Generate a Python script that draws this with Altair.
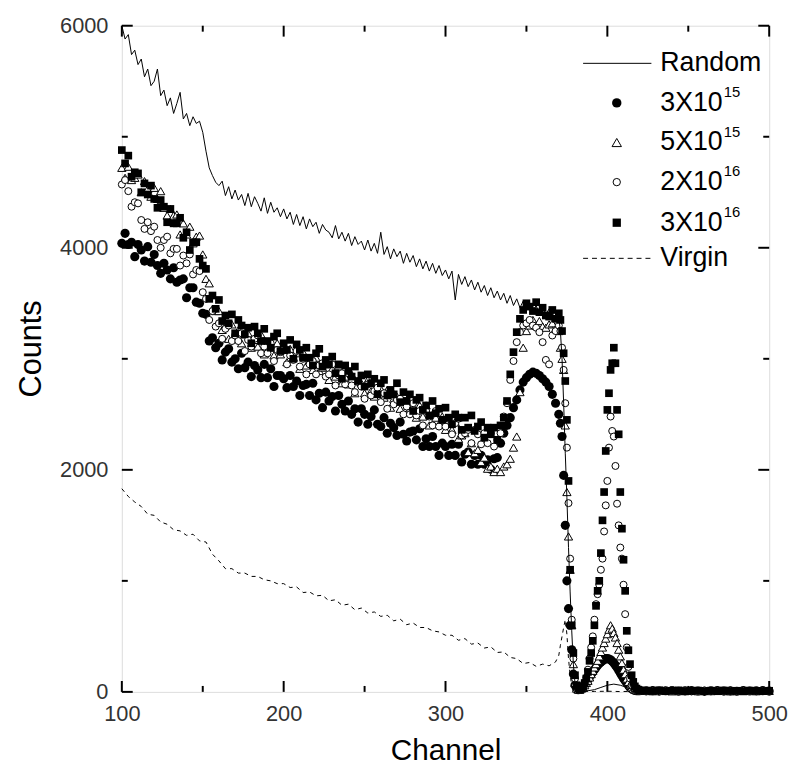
import altair as alt
import pandas as pd

FONT = "Liberation Sans, Arial, sans-serif"

# ---------------- data ----------------
CH_A = list(range(100, 337, 2))   # 119 channels
CH_B = list(range(338, 371, 2))   # 17 channels
CH_C = list(range(371, 421))      # 50 channels
CH_D = list(range(424, 501, 4))   # 20 channels
CHANNELS = CH_A + CH_B + CH_C + CH_D

# 3X10^16 (filled squares)
SQ_3E16 = [
    4880, 4760, 4830, 4640, 4680, 4670, 4500, 4580, 4480, 4560,
    4440, 4360, 4430, 4370, 4230, 4350, 4220, 4220, 4270, 4090,
    4140, 3980, 4050, 4050, 3900, 3840, 3810, 3540, 3570, 3450,
    3530, 3340, 3390, 3320, 3400, 3230, 3350, 3300, 3220, 3280,
    3140, 3290, 3230, 3160, 3270, 3160, 3100, 3200, 3230, 3070,
    3140, 3080, 3170, 3000, 3130, 3080, 3010, 3100, 3010, 2940,
    3050, 3090, 2930, 2990, 2950, 3020, 2870, 2950, 2820, 2940,
    2890, 2840, 2930, 2800, 2850, 2750, 2860, 2780, 2820, 2680,
    2780, 2810, 2670, 2720, 2680, 2780, 2610, 2700, 2620, 2680,
    2530, 2630, 2650, 2540, 2580, 2490, 2620, 2510, 2550, 2450,
    2560, 2470, 2410, 2500, 2470, 2360, 2470, 2380, 2490, 2350,
    2390, 2430, 2290, 2380, 2320, 2380, 2270, 2400, 2470,
    2620, 2860, 3060, 3240, 3360, 3440, 3500, 3470, 3430, 3510, 3420, 3460, 3390, 3380, 3440, 3360, 3410,
    3350, 3250, 3050, 2800, 2450, 1900, 1100, 600, 350, 150,
    60, 30, 20, 30, 50, 80, 120, 180, 280, 350,
    460, 600, 775, 910, 1000, 1250, 1545, 1800, 2170, 2540,
    2690, 2900, 2960, 3100, 2960, 2540, 2320, 1800, 1470, 1190,
    910, 550, 375, 250, 150, 90, 50, 30, 20, 15,
    12, 8, 15, 6, 10, 14, 5, 9, 12, 7, 11, 6, 13, 8, 10, 5, 12, 9, 7, 10,
]

# 2X10^16 (open circles)
OC_2E16 = [
    4570, 4610, 4510, 4370, 4410, 4400, 4250, 4170, 4230, 4150,
    4190, 4070, 4000, 4070, 4100, 3950, 3990, 3990, 3840, 3930,
    3860, 3940, 3760, 3800, 3790, 3600, 3540, 3350, 3430, 3290,
    3320, 3180, 3270, 3300, 3160, 3210, 3160, 3230, 3070, 3170,
    3110, 3180, 3210, 3050, 3110, 3050, 3140, 2980, 3080, 3060,
    3090, 2950, 3030, 2990, 3070, 2930, 3000, 2860, 2950, 2980,
    2860, 2940, 2960, 2840, 2860, 2950, 2760, 2850, 2870, 2770,
    2870, 2760, 2700, 2790, 2750, 2640, 2770, 2670, 2710, 2740,
    2610, 2690, 2550, 2710, 2590, 2630, 2640, 2500, 2570, 2500,
    2600, 2490, 2530, 2400, 2530, 2480, 2400, 2530, 2390, 2450,
    2390, 2460, 2320, 2420, 2460, 2310, 2330, 2360, 2240, 2360,
    2320, 2230, 2330, 2240, 2330, 2210, 2270, 2330, 2480,
    2600, 2810, 2980, 3150, 3240, 3300, 3320, 3350, 3300, 3280, 3240, 3150, 2990, 2950, 3210, 3250, 3300,
    3250, 3100, 2900, 2600, 2200, 1700, 1200, 650, 300, 120,
    50, 25, 20, 30, 50, 80, 130, 200, 300, 400,
    500, 650, 790, 880, 965, 1100, 1200, 1445, 1680, 1900,
    2200, 2480, 2350, 2300, 2035, 1695, 1500, 1300, 1200, 965,
    700, 400, 225, 120, 60, 35, 20, 15, 10, 10,
    8, 12, 6, 10, 14, 7, 11, 5, 9, 13, 6, 10, 8, 12, 5, 11, 9, 6, 10, 8,
]

# 5X10^15 (open triangles)
TR_5E15 = [
    4720, 4630, 4730, 4610, 4630, 4660, 4500, 4600, 4530, 4460,
    4540, 4440, 4510, 4360, 4290, 4350, 4290, 4300, 4120, 4220,
    4120, 4190, 4040, 4100, 4110, 3940, 3720, 3680, 3450, 3430,
    3430, 3260, 3300, 3180, 3310, 3220, 3260, 3140, 3220, 3230,
    3100, 3170, 3110, 3220, 3040, 3150, 3100, 3030, 3140, 3040,
    3080, 2970, 3090, 3010, 3050, 2910, 3060, 2940, 2980, 2900,
    3010, 2890, 2920, 2950, 2810, 2910, 2840, 2940, 2780, 2840,
    2770, 2860, 2690, 2800, 2780, 2690, 2810, 2710, 2660, 2730,
    2730, 2650, 2720, 2560, 2640, 2660, 2550, 2680, 2550, 2550,
    2570, 2470, 2580, 2480, 2580, 2400, 2500, 2470, 2410, 2480,
    2360, 2440, 2360, 2430, 2280, 2310, 2330, 2160, 2240, 2150,
    2180, 2070, 2110, 2010, 2030, 1980, 2010, 1980, 2030,
    2050, 2100, 2200, 2300, 2700, 3100, 3250, 3300, 3350, 3300, 3340, 3290, 3280, 3310, 3320, 3270, 3250,
    3100, 3000, 2900, 2400, 1800, 1400, 1100, 600, 250, 80,
    30, 20, 20, 30, 40, 60, 80, 100, 130, 160,
    190, 220, 250, 280, 320, 360, 400, 440, 480, 520,
    560, 600, 570, 530, 490, 440, 380, 320, 260, 200,
    160, 120, 90, 60, 40, 30, 20, 15, 10, 10,
    10, 6, 12, 9, 5, 11, 8, 13, 6, 10, 7, 12, 9, 5, 11, 8, 10, 6, 12, 9,
]

# 3X10^15 (filled circles)
FC_3E15 = [
    4040, 4130, 4030, 4050, 3920, 4030, 3980, 3880, 4010, 3870,
    3940, 3840, 3770, 3860, 3800, 3720, 3820, 3690, 3710, 3720,
    3550, 3640, 3640, 3510, 3500, 3410, 3400, 3160, 3190, 3100,
    3140, 2990, 3060, 3090, 2970, 3000, 2910, 3050, 2920, 2970,
    2840, 2940, 2900, 2830, 2950, 2830, 2910, 2750, 2850, 2850,
    2820, 2740, 2850, 2750, 2800, 2670, 2760, 2770, 2670, 2780,
    2630, 2690, 2560, 2700, 2620, 2660, 2530, 2670, 2590, 2530,
    2620, 2500, 2550, 2430, 2550, 2500, 2410, 2480, 2540, 2410,
    2390, 2470, 2330, 2420, 2380, 2310, 2430, 2320, 2260, 2340,
    2350, 2270, 2370, 2210, 2280, 2210, 2300, 2210, 2130, 2240,
    2210, 2130, 2230, 2130, 2230, 2070, 2140, 2160, 2050, 2130,
    2050, 2130, 2050, 2090, 2005, 2100, 2110, 2240, 2330,
    2400, 2470, 2560, 2630, 2720, 2790, 2830, 2860, 2880, 2870, 2850, 2820, 2790, 2750, 2680, 2600, 2500,
    2420, 2300, 1950, 1500, 1000, 750, 600, 380, 160, 60,
    25, 20, 25, 35, 50, 65, 85, 110, 135, 160,
    180, 200, 220, 240, 255, 270, 280, 290, 300, 300,
    295, 290, 275, 260, 240, 220, 195, 170, 145, 120,
    100, 80, 60, 40, 30, 20, 15, 10, 10, 10,
    9, 11, 7, 10, 12, 6, 9, 11, 8, 5, 10, 13, 7, 9, 6, 12, 8, 10, 11, 7,
]

# Random (solid line)
RANDOM_CH = list(range(100, 371, 2)) + list(range(371, 385)) + list(range(388, 501, 4))
RANDOM = [
    6000, 5880, 5920, 5740, 5780, 5650, 5700, 5540, 5610, 5460,
    5500, 5610, 5370, 5420, 5280, 5350, 5210, 5300, 5400, 5160,
    5210, 5100, 5180, 5120, 5140, 5040, 4870, 4720, 4650, 4590,
    4560, 4600, 4470, 4550, 4440, 4520, 4430, 4480, 4380, 4490,
    4370, 4460, 4400, 4330, 4450, 4310, 4410, 4320, 4360, 4280,
    4350, 4260, 4320, 4210, 4300, 4200, 4280, 4170, 4260, 4190,
    4230, 4130, 4210, 4160, 4140, 4090, 4200, 4080, 4140, 4060,
    4130, 4020, 4100, 4030, 4060, 3980, 4070, 3970, 4040, 3950,
    4140, 3940, 4010, 3900, 3990, 3920, 3970, 3860, 3950, 3870,
    3930, 3830, 3900, 3810, 3880, 3790, 3860, 3770, 3840, 3750,
    3800, 3720, 3790, 3530, 3760, 3670, 3740, 3650, 3710, 3620,
    3690, 3600, 3660, 3570, 3640, 3550, 3610, 3530, 3590, 3500,
    3570, 3480, 3540, 3460, 3520, 3440, 3500, 3430, 3480, 3410,
    3470, 3400, 3450, 3390, 3430, 3370,
    3250, 3000, 2600, 2150, 1750, 1300, 900, 550, 250, 80, 30, 15, 10, 10,
    10, 20, 40, 60, 70, 60, 40, 20, 10, 8, 10, 6, 8, 10, 5, 8, 6, 9, 5, 7,
    8, 6, 5, 7, 6, 8, 5, 6, 7,
]

# Virgin (dashed line)
VIRGIN_CH = list(range(100, 369, 4)) + list(range(370, 381)) + list(range(384, 501, 8))
VIRGIN = [
    1830, 1760, 1710, 1670, 1600, 1590, 1530, 1510, 1460, 1450,
    1410, 1420, 1360, 1350, 1240, 1180, 1110, 1110, 1070, 1070,
    1040, 1040, 1010, 1000, 975, 975, 940, 945, 895, 900,
    865, 870, 820, 830, 780, 790, 740, 755, 710, 720,
    680, 690, 640, 655, 605, 620, 580, 580, 550, 540,
    510, 510, 465, 480, 430, 440, 395, 405, 355, 360,
    310, 300, 255, 265, 230, 250, 235, 270,
    330, 420, 500, 580, 650, 520, 300, 150, 60, 20, 5,
    5, 4, 6, 3, 5, 4, 6, 5, 3, 4, 5, 6, 4, 5, 3,
]

X_TICKS_MAJOR = [100, 200, 300, 400, 500]
X_TICKS_MINOR = [150, 250, 350, 450]
Y_TICKS_MAJOR = [0, 2000, 4000, 6000]
Y_TICKS_MINOR = [1000, 3000, 5000]

LEGEND_LABELS = ["Random", "3X10", "5X10", "2X10", "3X10", "Virgin"]
LEGEND_SUPS = ["", "15", "15", "16", "16", ""]

# ---------------- layout ----------------
W, H = 654, 673

XS = alt.Scale(domain=[100, 500], nice=False, zero=False)
YS = alt.Scale(domain=[0, 6000], nice=False, zero=False)
XA = alt.Axis(values=X_TICKS_MAJOR, ticks=False, domain=False, grid=False, labelFlush=False,
              labelFontSize=22, labelPadding=12, labelColor="#333", labelFont=FONT,
              title="Channel", titleFontSize=30, titleFontWeight="normal",
              titleFont=FONT, titlePadding=11, titleColor="black", format="d")
YA = alt.Axis(values=Y_TICKS_MAJOR, ticks=False, domain=False, grid=False, labelFlush=False,
              labelFontSize=22, labelPadding=14, labelColor="#333", labelFont=FONT,
              title="Counts", titleFontSize=31, titleFontWeight="normal",
              titleFont=FONT, titlePadding=12, titleColor="black", titleY=326, format="d")


def xenc(field):
    return alt.X(f"{field}:Q", scale=XS, axis=XA)


def yenc(field):
    return alt.Y(f"{field}:Q", scale=YS, axis=YA)


def series_df(ch, vals):
    return pd.DataFrame({"ch": ch, "counts": vals})


fc = alt.Chart(series_df(CHANNELS, FC_3E15)).mark_point(
    shape="circle", filled=True, color="black", size=85, opacity=1
).encode(x=xenc("ch"), y=yenc("counts"))

tr = alt.Chart(series_df(CHANNELS, TR_5E15)).mark_point(
    shape="triangle-up", filled=True, fill="white", stroke="black", strokeWidth=1,
    size=70, opacity=1
).encode(x=xenc("ch"), y=yenc("counts"))

oc = alt.Chart(series_df(CHANNELS, OC_2E16)).mark_point(
    shape="circle", filled=True, fill="white", stroke="black", strokeWidth=1,
    size=50, opacity=1
).encode(x=xenc("ch"), y=yenc("counts"))

sq = alt.Chart(series_df(CHANNELS, SQ_3E16)).mark_point(
    shape="square", filled=True, color="black", size=60, opacity=1
).encode(x=xenc("ch"), y=yenc("counts"))

rnd = alt.Chart(series_df(RANDOM_CH, RANDOM)).mark_line(
    color="black", strokeWidth=1
).encode(x=xenc("ch"), y=yenc("counts"))

vir = alt.Chart(series_df(VIRGIN_CH, VIRGIN)).mark_line(
    color="black", strokeWidth=1, strokeDash=[4, 4]
).encode(x=xenc("ch"), y=yenc("counts"))


def tick_layers():
    layers = []
    for vals, ln in ((X_TICKS_MAJOR, 11), (X_TICKS_MINOR, 6)):
        d = pd.DataFrame({"v": vals})
        layers.append(alt.Chart(d).mark_rule(color="black", strokeWidth=2).encode(
            x=xenc("v"), y=alt.value(H), y2=alt.value(H - ln)))
        layers.append(alt.Chart(d).mark_rule(color="black", strokeWidth=2).encode(
            x=xenc("v"), y=alt.value(0), y2=alt.value(ln)))
    for vals, ln in ((Y_TICKS_MAJOR, 11), (Y_TICKS_MINOR, 6)):
        d = pd.DataFrame({"v": vals})
        layers.append(alt.Chart(d).mark_rule(color="black", strokeWidth=2).encode(
            y=yenc("v"), x=alt.value(0), x2=alt.value(ln)))
        layers.append(alt.Chart(d).mark_rule(color="black", strokeWidth=2).encode(
            y=yenc("v"), x=alt.value(W), x2=alt.value(W - ln)))
    return layers


# ---------------- legend ----------------
ONE = pd.DataFrame({"k": [0]})
LEG_ROWS = [38, 78, 118, 158, 199, 235]
LX_LINE0, LX_LINE1, LX_SYM, LX_TEXT = 466, 535, 500, 544
LEG_FS = 27
SUP_DX = 64


def legend_layers():
    layers = []
    layers.append(alt.Chart(ONE).mark_rule(color="black", strokeWidth=1).encode(
        x=alt.value(LX_LINE0), x2=alt.value(LX_LINE1), y=alt.value(LEG_ROWS[0])))
    layers.append(alt.Chart(ONE).mark_rule(color="black", strokeWidth=1, strokeDash=[5, 4]).encode(
        x=alt.value(LX_LINE0), x2=alt.value(LX_LINE1), y=alt.value(LEG_ROWS[5])))
    layers.append(alt.Chart(ONE).mark_point(shape="circle", filled=True, color="black", size=90, opacity=1).encode(
        x=alt.value(LX_SYM), y=alt.value(LEG_ROWS[1])))
    layers.append(alt.Chart(ONE).mark_point(shape="triangle-up", filled=True, fill="white", stroke="black",
                                            strokeWidth=1, size=90, opacity=1).encode(
        x=alt.value(LX_SYM), y=alt.value(LEG_ROWS[2])))
    layers.append(alt.Chart(ONE).mark_point(shape="circle", filled=True, fill="white", stroke="black",
                                            strokeWidth=1, size=55, opacity=1).encode(
        x=alt.value(LX_SYM), y=alt.value(LEG_ROWS[3])))
    layers.append(alt.Chart(ONE).mark_point(shape="square", filled=True, color="black", size=70, opacity=1).encode(
        x=alt.value(LX_SYM), y=alt.value(LEG_ROWS[4])))
    for lab, sup, yy in zip(LEGEND_LABELS, LEGEND_SUPS, LEG_ROWS):
        layers.append(alt.Chart(ONE).mark_text(text=lab, align="left", baseline="middle",
                                               fontSize=LEG_FS, font=FONT, color="black").encode(
            x=alt.value(LX_TEXT), y=alt.value(yy)))
        if sup:
            layers.append(alt.Chart(ONE).mark_text(text=sup, align="left", baseline="middle",
                                                   fontSize=15, font=FONT, color="black").encode(
                x=alt.value(LX_TEXT + SUP_DX), y=alt.value(yy - 11)))
    return layers


chart = alt.layer(
    fc, tr, oc, sq, rnd, vir, *tick_layers(), *legend_layers()
).properties(
    width=W, height=H,
    autosize=alt.AutoSizeParams(type="none"),
    padding={"left": 115, "top": 14, "right": 19, "bottom": 74},
).configure_view(
    stroke="black", strokeWidth=2.5
).configure(background="white")

chart.save("out.html", embed_options={"renderer": "svg", "actions": False})
